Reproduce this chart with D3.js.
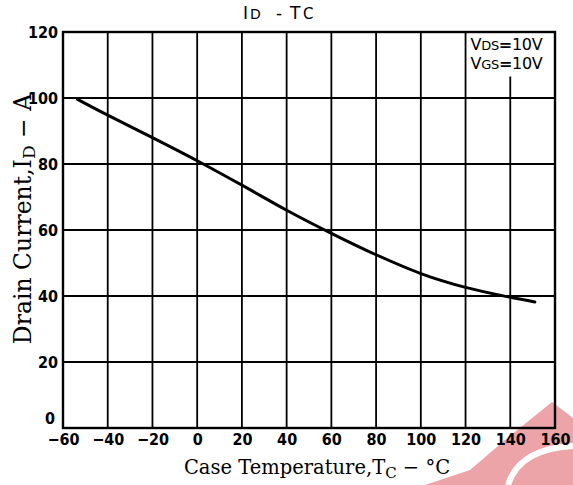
<!DOCTYPE html>
<html>
<head>
<meta charset="utf-8">
<script src="https://cdn.jsdelivr.net/npm/d3@7"></script>
<style>
  body { margin: 0; background: #fff; }
  svg { display: block; }
</style>
</head>
<body>
<div id="graph"></div>
<script>
// curve
const temps = [-53.5, -40, -20, 0, 20, 40, 60, 80, 100, 120, 140, 151];
const currents = [99.6, 94.8, 88.0, 81.0, 73.6, 66.0, 59.0, 52.5, 46.8, 42.6, 39.6, 38.2];
const xTicks = [-60, -40, -20, 0, 20, 40, 60, 80, 100, 120, 140, 160];
const yTicks = [0, 20, 40, 60, 80, 100, 120];

const margin = {top: 32, right: 18, bottom: 57, left: 63},
    width = 573 - margin.left - margin.right,
    height = 485 - margin.top - margin.bottom;

const x = d3.scaleLinear().domain([-60, 160]).range([0, width]);
const y = d3.scaleLinear().domain([0, 120]).range([height, 0]);

const svg = d3.select("#graph")
    .append("svg")
    .attr("width", 573)
    .attr("height", 485);

// pink watermark in the corner (behind everything)
const wm = svg.append("g");
wm.append("path")
    .attr("fill", "#eca4a8")
    .attr("d", "M425,485 L470,470 L505,440 L552,402 L573,418 L573,485 Z");
wm.append("path")
    .attr("fill", "none")
    .attr("stroke", "#fff")
    .attr("stroke-width", 6)
    .attr("d", "M508,485 C515,462 535,448 573,446");

const g = svg.append("g")
    .attr("transform", "translate(" + margin.left + "," + margin.top + ")");

// grid
g.selectAll(".vgrid")
    .data(xTicks.slice(1, -1))
    .enter().append("line")
    .attr("x1", d => x(d)).attr("x2", d => x(d))
    .attr("y1", y(0)).attr("y2", d => d >= 120 ? (d === 140 ? y(106.5) : y(100)) : y(120))
    .attr("stroke", "#000").attr("stroke-width", 1.8);

g.selectAll(".hgrid")
    .data(yTicks.slice(1, -1))
    .enter().append("line")
    .attr("x1", 0).attr("x2", width)
    .attr("y1", d => y(d)).attr("y2", d => y(d))
    .attr("stroke", "#000").attr("stroke-width", 1.8);

// legend box
g.append("rect")
    .attr("x", x(120)).attr("y", y(120))
    .attr("width", x(160) - x(120)).attr("height", y(100) - y(120))
    .attr("fill", "none").attr("stroke", "#000").attr("stroke-width", 1.8);

const legend = g.append("text")
    .attr("font-family", "'DejaVu Sans', sans-serif")
    .attr("font-size", 16)
    .attr("letter-spacing", -0.3)
    .attr("fill", "#000");
[["V", "DS", "=10V", 18], ["V", "GS", "=10V", 37]].forEach(function (r) {
    const t = legend.append("tspan").attr("x", x(120) + 5).attr("y", r[3]);
    t.append("tspan").text(r[0]);
    t.append("tspan").attr("font-size", 13).text(r[1]);
    t.append("tspan").attr("font-weight", "bold").text(r[2].slice(0, 1));
    t.append("tspan").text(r[2].slice(1));
});

// curve
g.append("path")
    .datum(temps.map((t, i) => [t, currents[i]]))
    .attr("fill", "none")
    .attr("stroke", "#000")
    .attr("stroke-width", 3)
    .attr("stroke-linecap", "round")
    .attr("d", d3.line().x(d => x(d[0])).y(d => y(d[1])).curve(d3.curveCatmullRom));

// frame
g.append("rect")
    .attr("width", width).attr("height", height)
    .attr("fill", "none").attr("stroke", "#000").attr("stroke-width", 2.4);

// axes
const tickFont = "'DejaVu Sans Condensed', 'DejaVu Sans', sans-serif";
const xAxis = g.append("g")
    .attr("transform", "translate(0," + height + ")")
    .call(d3.axisBottom(x).tickValues(xTicks).tickSize(0).tickPadding(6).tickFormat(d => d < 0 ? "\u2212" + (-d) : d));
const yAxis = g.append("g")
    .call(d3.axisLeft(y).tickValues(yTicks).tickSize(0).tickPadding(5));
[xAxis, yAxis].forEach(function (a) {
    a.select(".domain").remove();
    a.selectAll("text")
        .attr("font-family", tickFont)
        .attr("font-weight", "bold")
        .attr("font-size", 16)
        .attr("fill", "#000");
});
yAxis.selectAll("text").filter(d => d === 0).attr("dy", "-0.3em").attr("dx", "-3");

// title
const title = svg.append("text")
    .attr("y", 19)
    .attr("font-family", "'DejaVu Sans', sans-serif")
    .attr("font-size", 17);
title.append("tspan").attr("x", 243).text("I");
title.append("tspan").attr("x", 250).attr("font-size", 14).text("D");
title.append("tspan").attr("x", 276).text("-");
title.append("tspan").attr("x", 290).text("T");
title.append("tspan").attr("x", 303).attr("font-size", 15).text("C");

// axis titles
const serif = "'DejaVu Serif', 'Liberation Serif', serif";
const xl = svg.append("text")
    .attr("x", 317).attr("y", 474)
    .attr("text-anchor", "middle")
    .attr("font-family", serif)
    .attr("font-size", 19.5);
xl.append("tspan").text("Case Temperature,T");
xl.append("tspan").attr("font-size", 15).attr("dy", 4).text("C");
xl.append("tspan").attr("dy", -4).text(" \u2212 \u00b0C");

const yl = svg.append("text")
    .attr("transform", "translate(31,219) rotate(-90)")
    .attr("text-anchor", "middle")
    .attr("font-family", serif)
    .attr("font-size", 23.5);
yl.append("tspan").text("Drain Current,I");
yl.append("tspan").attr("font-size", 17).attr("dy", 4).text("D");
yl.append("tspan").attr("dy", -4).text(" \u2212 A");
</script>
</body>
</html>
